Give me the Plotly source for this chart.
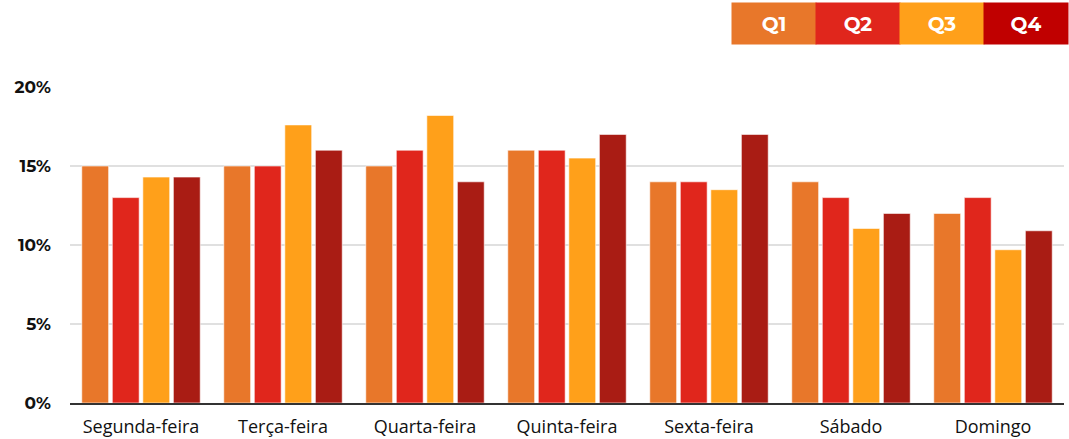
import plotly.graph_objects as go

days = ["Segunda-feira", "Terça-feira", "Quarta-feira", "Quinta-feira", "Sexta-feira", "Sábado", "Domingo"]
q1 = [15, 15, 15, 16, 14, 14, 12]
q2 = [13, 15, 16, 16, 14, 13, 13]
q3 = [14.3, 17.6, 18.2, 15.5, 13.5, 11.05, 9.7]
q4 = [14.3, 16, 14, 17, 17, 12, 10.9]
series_names = ["Q1", "Q2", "Q3", "Q4"]
bar_colors = ["#E8772A", "#E0261C", "#FFA01A", "#A91C14"]
legend_colors = ["#E8772A", "#E0261C", "#FFA01A", "#C00000"]
y_ticks = [0, 5, 10, 15, 20]
y_tick_text = ["0%", "5%", "10%", "15%", "20%"]

L, R, T, B = 70, 5, 87, 36
W, H = 1069, 439
pw, ph = W - L - R, H - T - B

fig = go.Figure()
for name, vals, col in zip(series_names, [q1, q2, q3, q4], bar_colors):
    fig.add_trace(go.Bar(x=days, y=vals, name=name,
                         marker=dict(color=col, line=dict(color="rgba(255,255,255,0.6)", width=1)),
                         showlegend=False))

# legend boxes as annotations
box_w, box_h = 84, 41
x0 = 732
for i, (name, col) in enumerate(zip(series_names, legend_colors)):
    cx = x0 + box_w * i + box_w / 2
    fig.add_annotation(
        x=(cx - L) / pw, y=(H - B - 23.5) / ph, xref="paper", yref="paper",
        text="<b>%s</b>" % name, showarrow=False,
        font=dict(family="Montserrat, Open Sans, sans-serif", size=20, color="white"),
        bgcolor=col, width=box_w, height=box_h, borderpad=0,
        xanchor="center", yanchor="middle",
    )

fig.update_layout(
    width=W, height=H,
    margin=dict(l=L, r=R, t=T, b=B, autoexpand=False),
    plot_bgcolor="white", paper_bgcolor="white",
    barmode="group", bargap=0.14, bargroupgap=0.12,
    xaxis=dict(
        showgrid=False, showline=True, linecolor="#333333", linewidth=2,
        tickfont=dict(family="Open Sans, sans-serif", size=18, color="#111111"),
        ticks="", ticklabelstandoff=6, automargin=False,
    ),
    yaxis=dict(
        range=[0, 20], tickvals=y_ticks, ticktext=y_tick_text,
        showgrid=True, gridcolor="#E0E0E0", gridwidth=1.5,
        zeroline=False, showline=False, automargin=False,
        tickfont=dict(family="Montserrat, Open Sans, sans-serif", size=17, color="#111111", weight="bold"),
        ticklabelstandoff=18,
    ),
)

fig.write_html("out.html", config={"displayModeBar": False},
               post_script="document.body.style.margin='0';document.body.style.padding='0';")
